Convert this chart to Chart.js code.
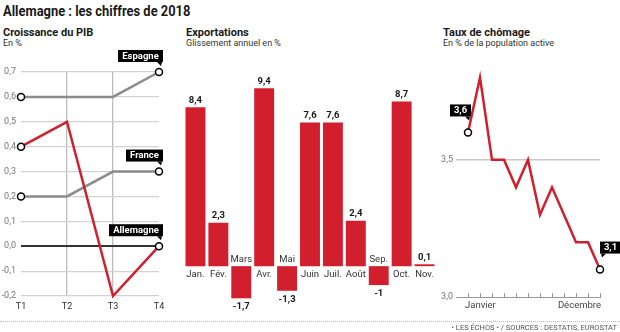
<!DOCTYPE html>
<html>
<head>
<meta charset="utf-8">
<script src="https://cdn.jsdelivr.net/npm/chart.js@4.4.1/dist/chart.umd.min.js"></script>
<style>
  body { margin: 0; width: 620px; height: 332px; background: #fff; position: relative; overflow: hidden; font-family: Roboto, sans-serif; color: #1a1a1a; }
  .t { position: absolute; white-space: nowrap; line-height: 1; }
  .h1 { font-size: 15px; font-weight: bold; transform: scaleX(0.86); transform-origin: left top; }
  .h2 { font-size: 11px; font-weight: bold; }
  .h3 { font-size: 9px; color: #333; }
  canvas { position: absolute; }
  #pied { position: absolute; left: 0; top: 321px; width: 620px; border-top: 1px dotted #bbb; }
  #source { position: absolute; right: 3px; top: 324px; font-size: 7.5px; color: #555; }
</style>
</head>
<body>
<div class="t h1" style="left:3px;top:4px">Allemagne : les chiffres de 2018</div>

<div class="t h2" style="left:3px;top:27px">Croissance du PIB</div>
<div class="t h3" style="left:3px;top:39px">En %</div>

<div class="t h2" style="left:186px;top:27px">Exportations</div>
<div class="t h3" style="left:186px;top:39px">Glissement annuel en %</div>

<div class="t h2" style="left:443px;top:27px">Taux de chômage</div>
<div class="t h3" style="left:443px;top:39px">En % de la population active</div>

<canvas id="pib" width="180" height="270" style="left:0;top:50px"></canvas>
<canvas id="export" width="260" height="270" style="left:180px;top:50px"></canvas>
<canvas id="chomage" width="200" height="270" style="left:420px;top:50px"></canvas>

<div id="pied"></div>
<div class="t" id="source">• LES ÉCHOS • / SOURCES : DESTATIS, EUROSTAT</div>

<script>
// Croissance du PIB, par trimestre
const trimestres = ['T1', 'T2', 'T3', 'T4'];
const pibAllemagne = [0.4, 0.5, -0.2, 0.0];
const pibFrance = [0.2, 0.2, 0.3, 0.3];
const pibEspagne = [0.6, 0.6, 0.6, 0.7];
const pibTicks = [-0.2, -0.1, 0, 0.1, 0.2, 0.3, 0.4, 0.5, 0.6, 0.7];

// Exportations, glissement annuel
const mois = ['Jan.', 'Fév.', 'Mars', 'Avr.', 'Mai', 'Juin', 'Juil.', 'Août', 'Sep.', 'Oct.', 'Nov.'];
const exportations = [8.4, 2.3, -1.7, 9.4, -1.3, 7.6, 7.6, 2.4, -1, 8.7, 0.1];

// Taux de chômage
const moisChomage = ['Janvier', 'Février', 'Mars', 'Avril', 'Mai', 'Juin', 'Juillet', 'Août', 'Septembre', 'Octobre', 'Novembre', 'Décembre'];
const chomage = [3.6, 3.8, 3.5, 3.5, 3.4, 3.5, 3.3, 3.4, 3.3, 3.2, 3.2, 3.1];
const chomageTicks = [3.0, 3.5];

const ROUGE = '#d11f2d';
const GRIS = '#8c8c8c';
const FONT = 'Roboto';

Chart.defaults.font.family = FONT;
Chart.defaults.animation = false;

function virgule(v, d) {
  return Number(v).toFixed(d).replace('.', ',');
}

// petite étiquette noire avec pointe
function etiquette(ctx, texte, px, py, cote, ecart) {
  ctx.save();
  ctx.font = 'bold 9.5px ' + FONT;
  const w = Math.round(ctx.measureText(texte).width) + 8;
  const h = 12;
  const x0 = cote === 'gauche' ? px + 4 - w : px;
  const y0 = py - ecart - h;
  ctx.fillStyle = '#000';
  ctx.fillRect(x0, y0, w, h);
  ctx.beginPath();
  if (cote === 'gauche') {
    ctx.moveTo(x0 + w - 6, y0 + h);
    ctx.lineTo(x0 + w - 1, y0 + h);
    ctx.lineTo(x0 + w - 2, y0 + h + 4);
  } else {
    ctx.moveTo(x0 + 1, y0 + h);
    ctx.lineTo(x0 + 6, y0 + h);
    ctx.lineTo(x0 + 2, y0 + h + 4);
  }
  ctx.fill();
  ctx.fillStyle = '#fff';
  ctx.textAlign = 'center';
  ctx.textBaseline = 'middle';
  ctx.fillText(texte, x0 + w / 2, y0 + h / 2 + 0.5);
  ctx.restore();
}

const pointExtremes = ctx => (ctx.dataIndex === 0 || ctx.dataIndex === ctx.dataset.data.length - 1) ? 3.5 : 0;
const styleRond = { pointRadius: pointExtremes, pointBackgroundColor: '#fff', pointBorderColor: '#000', pointBorderWidth: 1.5 };

// ---------- PIB ----------
new Chart(document.getElementById('pib'), {
  type: 'line',
  data: {
    labels: trimestres,
    datasets: [
      { label: 'Allemagne', data: pibAllemagne, borderColor: ROUGE, order: 0, ...styleRond },
      { label: 'France', data: pibFrance, borderColor: GRIS, order: 1, ...styleRond },
      { label: 'Espagne', data: pibEspagne, borderColor: GRIS, order: 2, ...styleRond }
    ]
  },
  options: {
    responsive: false,
    layout: { padding: { top: 22, right: 21 } },
    plugins: { legend: { display: false }, tooltip: { enabled: false } },
    elements: { line: { borderWidth: 2.5, tension: 0 } },
    datasets: { line: { clip: false } },
    scales: {
      x: {
        grid: { color: c => (c.index === 1 || c.index === 2) ? '#bdbdbd' : 'rgba(0,0,0,0)', lineWidth: 1.3, drawTicks: false },
        border: { display: false },
        ticks: { padding: 5, color: '#333', font: { size: 9 } },
        afterFit: s => { s.height = 24; }
      },
      y: {
        min: -0.2, max: 0.7,
        afterBuildTicks: s => { s.ticks = pibTicks.map(v => ({ value: v })); },
        grid: {
          color: c => c.tick.value === 0 ? '#333' : '#d2d2d2',
          lineWidth: c => c.tick.value === 0 ? 2 : 1.2,
          drawTicks: false
        },
        border: { display: false },
        ticks: { padding: 5, color: '#777', font: { size: 9 }, callback: v => virgule(v, 1) },
        afterFit: s => { s.width = 21; }
      }
    }
  },
  plugins: [{
    id: 'etiquettesPib',
    afterDatasetsDraw(chart) {
      const ctx = chart.ctx;
      chart.data.datasets.forEach((ds, i) => {
        const pts = chart.getDatasetMeta(i).data;
        const p = pts[pts.length - 1];
        etiquette(ctx, ds.label, p.x, p.y, 'gauche', 10);
      });
    }
  }]
});

// ---------- Exportations ----------
new Chart(document.getElementById('export'), {
  type: 'bar',
  data: {
    labels: mois,
    datasets: [{ data: exportations, backgroundColor: ROUGE, barPercentage: 0.87, categoryPercentage: 1 }]
  },
  options: {
    responsive: false,
    layout: { padding: { left: 4, right: 4, top: 27, bottom: 16 } },
    plugins: { legend: { display: false }, tooltip: { enabled: false } },
    scales: {
      x: { display: false },
      y: { display: false, min: -2, max: 10 }
    }
  },
  plugins: [{
    id: 'etiquettesBarres',
    afterDatasetsDraw(chart) {
      const ctx = chart.ctx;
      ctx.save();
      ctx.textAlign = 'center';
      chart.getDatasetMeta(0).data.forEach((bar, i) => {
        const v = exportations[i];
        const txt = Number.isInteger(v) ? String(v) : virgule(v, 1);
        ctx.fillStyle = '#1a1a1a';
        ctx.font = 'bold 9.5px ' + FONT;
        if (v >= 0) {
          ctx.textBaseline = 'bottom';
          ctx.fillText(txt, bar.x, bar.y - 2);
        } else {
          ctx.textBaseline = 'top';
          ctx.fillText(txt, bar.x, bar.y + 4);
        }
        ctx.font = '9.5px ' + FONT;
        ctx.fillStyle = '#333';
        if (v >= 0) {
          ctx.textBaseline = 'top';
          ctx.fillText(mois[i], bar.x, bar.base + 4);
        } else {
          ctx.textBaseline = 'bottom';
          ctx.fillText(mois[i], bar.x, bar.base - 2);
        }
      });
      ctx.restore();
    }
  }]
});

// ---------- Chômage ----------
new Chart(document.getElementById('chomage'), {
  type: 'line',
  data: {
    datasets: [{
      label: 'Chômage',
      data: chomage.map((v, i) => ({ x: i, y: v })),
      borderColor: ROUGE, borderWidth: 2.5, tension: 0, clip: false,
      ...styleRond
    }]
  },
  options: {
    responsive: false,
    layout: { padding: { top: 0, right: 20 } },
    plugins: { legend: { display: false }, tooltip: { enabled: false } },
    scales: {
      x: {
        type: 'linear', min: -1, max: 11,
        grid: { display: false },
        border: { display: true, color: '#999', width: 1 },
        ticks: { display: false },
        afterFit: s => { s.height = 23; }
      },
      y: {
        min: 3.0, max: 3.87,
        afterBuildTicks: s => { s.ticks = chomageTicks.map(v => ({ value: v })); },
        grid: { color: c => c.tick.value === 3.5 ? '#c8c8c8' : 'rgba(0,0,0,0)', lineWidth: 1.5, drawTicks: false },
        border: { display: false },
        ticks: { padding: 3, color: '#777', font: { size: 9 }, callback: v => virgule(v, 1) },
        afterFit: s => { s.width = 36; }
      }
    }
  },
  plugins: [{
    id: 'axeMois',
    afterDatasetsDraw(chart) {
      const ctx = chart.ctx;
      const xs = chart.scales.x;
      const bas = chart.chartArea.bottom;
      ctx.save();
      ctx.strokeStyle = '#999';
      ctx.lineWidth = 1;
      moisChomage.forEach((m, i) => {
        const x = Math.round(xs.getPixelForValue(i)) + 0.5;
        ctx.beginPath();
        ctx.moveTo(x, bas);
        ctx.lineTo(x, bas - 4);
        ctx.stroke();
      });
      ctx.font = '9.5px ' + FONT;
      ctx.fillStyle = '#444';
      ctx.textBaseline = 'top';
      ctx.textAlign = 'left';
      ctx.fillText(moisChomage[0], xs.getPixelForValue(0) - 3, bas + 4);
      ctx.textAlign = 'right';
      ctx.fillText(moisChomage[moisChomage.length - 1], xs.getPixelForValue(moisChomage.length - 1) + 1, bas + 4);
      ctx.restore();

      const pts = chart.getDatasetMeta(0).data;
      const p0 = pts[0];
      const p1 = pts[pts.length - 1];
      etiquette(ctx, virgule(chomage[0], 1), p0.x - 1, p0.y, 'gauche', 16);
      etiquette(ctx, virgule(chomage[chomage.length - 1], 1), p1.x, p1.y, 'droite', 16);
    }
  }]
});
</script>
</body>
</html>
